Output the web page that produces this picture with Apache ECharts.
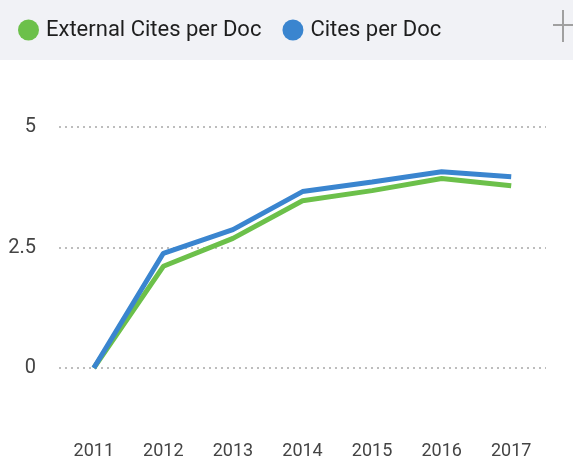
<!DOCTYPE html>
<html>
<head>
<meta charset="utf-8">
<script src="https://cdn.jsdelivr.net/npm/echarts@6/dist/echarts.min.js"></script>
<style>
  html, body { margin: 0; padding: 0; background: #fff; }
  #chart { width: 573px; height: 464px; }
</style>
</head>
<body>
<div id="chart"></div>
<script>
// 数据
const years = ['2011', '2012', '2013', '2014', '2015', '2016', '2017']
const externalCites = [0, 2.11, 2.69, 3.47, 3.68, 3.93, 3.78]
const citesPerDoc = [0, 2.38, 2.87, 3.66, 3.86, 4.07, 3.97]
const yTicks = [0, 2.5, 5]

const font = 'Roboto, sans-serif'

const chart = echarts.init(document.getElementById('chart'))

const option = {
  backgroundColor: '#fff',
  animation: false,
  graphic: [
    // 顶部灰色条
    { type: 'rect', z: -10, shape: { x: 0, y: 0, width: 573, height: 60 }, style: { fill: '#f1f2f6' } },
    // 右上角加号
    { type: 'line', shape: { x1: 553, y1: 25, x2: 573, y2: 25 }, style: { stroke: '#a0a0a0', lineWidth: 2 } },
    { type: 'line', shape: { x1: 563, y1: 10, x2: 563, y2: 42 }, style: { stroke: '#a0a0a0', lineWidth: 2 } }
  ],
  legend: {
    left: 13,
    top: 14,
    icon: 'circle',
    itemWidth: 21,
    itemHeight: 21,
    itemGap: 21,
    textStyle: { fontFamily: font, fontSize: 22, color: '#1e1e1e', padding: [0, 0, 0, 2] },
    data: ['External Cites per Doc', 'Cites per Doc']
  },
  grid: { left: 59, right: 27, top: 127, bottom: 96 },
  xAxis: {
    type: 'category',
    data: years,
    axisLine: { show: false },
    axisTick: { show: false },
    axisLabel: { color: '#444', fontFamily: font, fontSize: 18, margin: 74 }
  },
  yAxis: {
    type: 'value',
    min: 0,
    max: 5,
    interval: 2.5,
    axisLine: { show: false },
    axisTick: { show: false },
    axisLabel: {
      color: '#444',
      fontFamily: font,
      fontSize: 20,
      margin: 23,
      formatter: v => (yTicks.includes(v) ? String(v) : '')
    },
    splitLine: { lineStyle: { color: '#bdbdbd', type: [2, 4], width: 2 } }
  },
  series: [
    {
      name: 'External Cites per Doc',
      type: 'line',
      data: externalCites,
      symbol: 'none',
      itemStyle: { color: '#6cc04a' },
      lineStyle: { width: 5, color: '#6cc04a' }
    },
    {
      name: 'Cites per Doc',
      type: 'line',
      data: citesPerDoc,
      symbol: 'none',
      itemStyle: { color: '#3a85cf' },
      lineStyle: { width: 5, color: '#3a85cf' }
    }
  ]
}

chart.setOption(option)
</script>
</body>
</html>
